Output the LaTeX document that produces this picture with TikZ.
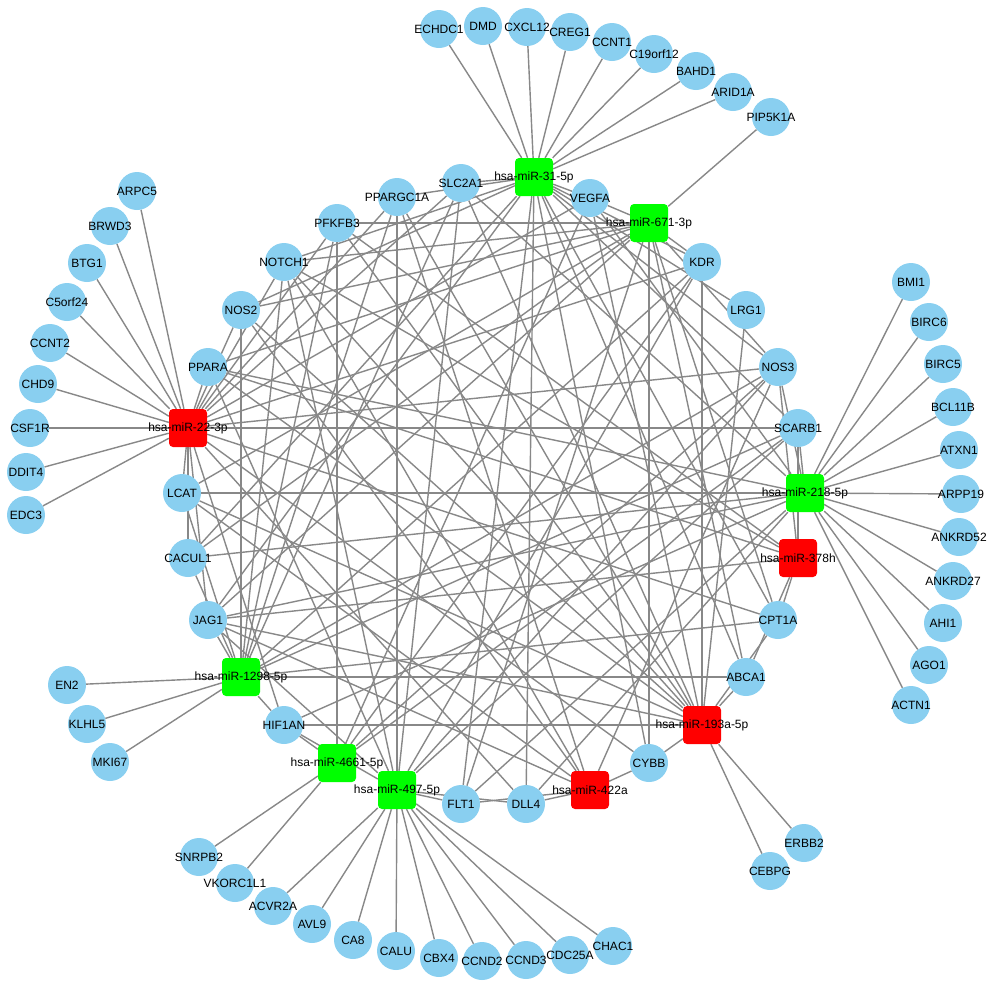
\documentclass[tikz,border=0pt]{standalone}
\usepackage{fontspec}
\setmainfont{Liberation Sans}
\pgfdeclarelayer{bg}
\pgfsetlayers{bg,main}
\definecolor{gene}{RGB}{137,207,240}
\definecolor{mgreen}{RGB}{0,255,0}
\definecolor{mred}{RGB}{255,0,0}
\definecolor{edgec}{RGB}{136,136,136}
\newcommand\genenode[3]{\node[gnode,label={[lab]center:#3}] (#1) at #2 {};}
\newcommand\mirnode[4]{\node[#1,label={[lab]center:#4}] (#2) at #3 {};}
\begin{document}
\begin{tikzpicture}[x=1pt,y=-1pt,
  gnode/.style={circle,fill=gene,minimum size=38pt,inner sep=0pt},
  mnode/.style={rectangle,rounded corners=4pt,minimum size=38pt,inner sep=0pt},
  gm/.style={mnode,fill=mgreen}, rm/.style={mnode,fill=mred},
  lab/.style={font=\fontsize{12}{14}\selectfont,inner sep=0pt,text=black},
  conn/.style={draw=edgec,line width=1.4pt}]
\useasboundingbox (0,0) rectangle (996,989);
% miRNAs
\mirnode{gm}{m31}{(534,177)}{hsa-miR-31-5p}
\mirnode{gm}{m671}{(649,223)}{hsa-miR-671-3p}
\mirnode{gm}{m218}{(805,493)}{hsa-miR-218-5p}
\mirnode{rm}{m378}{(798,558)}{hsa-miR-378h}
\mirnode{rm}{m193}{(702,725)}{hsa-miR-193a-5p}
\mirnode{rm}{m422}{(590,790)}{hsa-miR-422a}
\mirnode{gm}{m497}{(397,790)}{hsa-miR-497-5p}
\mirnode{gm}{m4661}{(337,763)}{hsa-miR-4661-5p}
\mirnode{gm}{m1298}{(241,677)}{hsa-miR-1298-5p}
\mirnode{rm}{m22}{(188,428)}{hsa-miR-22-3p}
% inner genes
\genenode{slc}{(461,183)}{SLC2A1}
\genenode{vegfa}{(590,198)}{VEGFA}
\genenode{kdr}{(702,262)}{KDR}
\genenode{lrg}{(746,310)}{LRG1}
\genenode{nosiii}{(778,367)}{NOS3}
\genenode{scarb}{(798,428)}{SCARB1}
\genenode{cpt}{(778,620)}{CPT1A}
\genenode{abca}{(746,677)}{ABCA1}
\genenode{cybb}{(649,763)}{CYBB}
\genenode{dll}{(526,804)}{DLL4}
\genenode{flt}{(461,804)}{FLT1}
\genenode{hif}{(284,725)}{HIF1AN}
\genenode{jag}{(208,620)}{JAG1}
\genenode{cacul}{(188,558)}{CACUL1}
\genenode{lcat}{(182,493)}{LCAT}
\genenode{ppara}{(208,367)}{PPARA}
\genenode{nosii}{(241,310)}{NOS2}
\genenode{notch}{(284,262)}{NOTCH1}
\genenode{pfk}{(337,223)}{PFKFB3}
\genenode{ppargc}{(397,197)}{PPARGC1A}
% outer genes
\genenode{echdc}{(439,29)}{ECHDC1}
\genenode{dmd}{(483,26)}{DMD}
\genenode{cxcl}{(527,27)}{CXCL12}
\genenode{creg}{(570,32)}{CREG1}
\genenode{ccnti}{(612,42)}{CCNT1}
\genenode{cxix}{(654,54)}{C19orf12}
\genenode{bahd}{(696,71)}{BAHD1}
\genenode{arid}{(733,92)}{ARID1A}
\genenode{pipk}{(771,117)}{PIP5K1A}
\genenode{arpc}{(137,191)}{ARPC5}
\genenode{brwd}{(110,226)}{BRWD3}
\genenode{btg}{(87,263)}{BTG1}
\genenode{cvorf}{(67,302)}{C5orf24}
\genenode{ccntii}{(50,343)}{CCNT2}
\genenode{chd}{(38,384)}{CHD9}
\genenode{csf}{(30,428)}{CSF1R}
\genenode{ddit}{(26,472)}{DDIT4}
\genenode{edc}{(26,515)}{EDC3}
\genenode{bmi}{(911,282)}{BMI1}
\genenode{birvi}{(929,322)}{BIRC6}
\genenode{birv}{(943,364)}{BIRC5}
\genenode{bcl}{(953,407)}{BCL11B}
\genenode{atxn}{(959,450)}{ATXN1}
\genenode{arpp}{(961,494)}{ARPP19}
\genenode{ankv}{(959,537)}{ANKRD52}
\genenode{ankvii}{(953,581)}{ANKRD27}
\genenode{ahi}{(943,623)}{AHI1}
\genenode{ago}{(929,665)}{AGO1}
\genenode{actn}{(911,705)}{ACTN1}
\genenode{enii}{(67,685)}{EN2}
\genenode{klhl}{(87,724)}{KLHL5}
\genenode{mki}{(110,762)}{MKI67}
\genenode{snrp}{(199,857)}{SNRPB2}
\genenode{vkor}{(235,883)}{VKORC1L1}
\genenode{acvr}{(273,906)}{ACVR2A}
\genenode{avl}{(312,924)}{AVL9}
\genenode{caviii}{(353,940)}{CA8}
\genenode{calu}{(396,951)}{CALU}
\genenode{cbx}{(439,958)}{CBX4}
\genenode{ccndii}{(482,961)}{CCND2}
\genenode{ccndiii}{(526,960)}{CCND3}
\genenode{cdc}{(570,955)}{CDC25A}
\genenode{chac}{(613,946)}{CHAC1}
\genenode{erbb}{(804,843)}{ERBB2}
\genenode{cebpg}{(770,871)}{CEBPG}
\begin{pgfonlayer}{bg}
% outer edges
\foreach \g in {echdc,dmd,cxcl,creg,ccnti,cxix,bahd,arid} \draw[conn] (m31) -- (\g);
\draw[conn] (m671) -- (pipk);
\foreach \g in {arpc,brwd,btg,cvorf,ccntii,chd,csf,ddit,edc} \draw[conn] (m22) -- (\g);
\foreach \g in {bmi,birvi,birv,bcl,atxn,arpp,ankv,ankvii,ahi,ago,actn} \draw[conn] (m218) -- (\g);
\foreach \g in {enii,klhl,mki} \draw[conn] (m1298) -- (\g);
\foreach \g in {snrp,vkor} \draw[conn] (m4661) -- (\g);
\foreach \g in {acvr,avl,caviii,calu,cbx,ccndii,ccndiii,cdc,chac} \draw[conn] (m497) -- (\g);
\foreach \g in {erbb,cebpg} \draw[conn] (m193) -- (\g);
% inner edges
\foreach \m in {m31,m22,m1298,m497,m193,m218} \draw[conn] (slc) -- (\m);
\foreach \m in {m31,m671,m22,m4661,m193,m218} \draw[conn] (vegfa) -- (\m);
\foreach \m in {m31,m671,m22,m193,m1298,m497,m4661} \draw[conn] (kdr) -- (\m);
\foreach \m in {m31,m193} \draw[conn] (lrg) -- (\m);
\foreach \m in {m31,m671,m22,m1298,m497,m4661,m422,m218,m378} \draw[conn] (nosiii) -- (\m);
\foreach \m in {m22,m1298,m497,m218,m378,m31,m4661} \draw[conn] (scarb) -- (\m);
\foreach \m in {m22,m31,m671,m378,m193,m1298} \draw[conn] (cpt) -- (\m);
\foreach \m in {m1298,m193,m378,m31,m671} \draw[conn] (abca) -- (\m);
\foreach \m in {m671,m193,m422,m22,m31} \draw[conn] (cybb) -- (\m);
\foreach \m in {m31,m422,m497,m218,m22} \draw[conn] (dll) -- (\m);
\foreach \m in {m497,m422,m31,m671,m218} \draw[conn] (flt) -- (\m);
\foreach \m in {m193,m1298,m4661,m497,m22,m218} \draw[conn] (hif) -- (\m);
\foreach \m in {m1298,m31,m671,m218,m193,m422,m22,m378,m497} \draw[conn] (jag) -- (\m);
\foreach \m in {m218,m1298,m671,m31,m22} \draw[conn] (cacul) -- (\m);
\foreach \m in {m218,m22,m671,m422,m193,m1298} \draw[conn] (lcat) -- (\m);
\foreach \m in {m22,m671,m218,m378,m193,m497} \draw[conn] (ppara) -- (\m);
\foreach \m in {m22,m31,m671,m422,m193,m1298} \draw[conn] (nosii) -- (\m);
\foreach \m in {m671,m31,m1298,m22,m193,m422,m378,m497} \draw[conn] (notch) -- (\m);
\foreach \m in {m671,m22,m4661,m193,m378,m1298} \draw[conn] (pfk) -- (\m);
\foreach \m in {m31,m497,m22,m1298,m193,m422} \draw[conn] (ppargc) -- (\m);
\end{pgfonlayer}
\end{tikzpicture}
\end{document}
